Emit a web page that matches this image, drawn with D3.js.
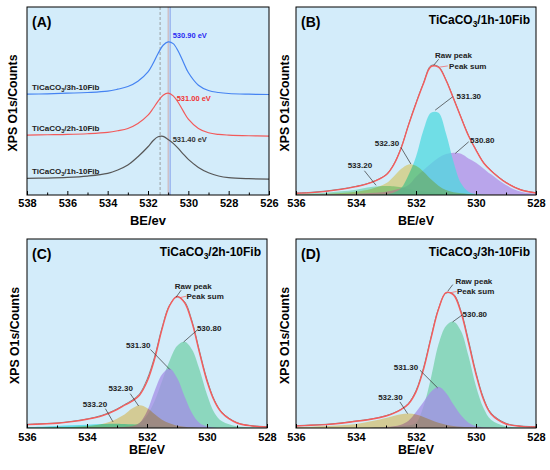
<!DOCTYPE html>
<html>
<head>
<meta charset="utf-8">
<script src="https://cdnjs.cloudflare.com/ajax/libs/d3/7.8.5/d3.min.js"></script>
<style>
body { margin: 0; background: #fff; }
svg text { font-family: Arial, "Liberation Sans", sans-serif; font-weight: bold; }
</style>
</head>
<body>
<div id="chart"></div>
<script>
// ---- data (counts are arbitrary units) ----
var evA = [538, 537, 536, 535, 534, 533.5, 533, 532.5, 532, 531.75, 531.5, 531.25, 531,
	530.75, 530.5, 530.25, 530, 529.5, 529, 528.5, 528, 527, 526];
var curveA1h = [50, 51, 53, 57, 65, 75, 90, 115, 145, 163, 175, 176, 167, 155, 140, 123, 107, 83, 67, 57, 52, 49, 48];
var curveA2h = [180, 181, 182, 184, 188, 193, 200, 215, 240, 260, 282, 300, 306, 298, 278, 252, 228, 200, 187, 182, 180, 178, 177];
var curveA3h = [303, 304, 306, 308, 312, 318, 326, 342, 370, 395, 425, 450, 460, 455, 432, 400, 368, 330, 314, 308, 305, 303, 302];
var peakTextA = ['531.40 eV', '531.00 eV', '530.90 eV'];
var refLinesA = [531.4, 531.0, 530.9];
var ticksA = [538, 536, 534, 532, 530, 528, 526];
var minorA = [537, 535, 533, 531, 529, 527];

var evGrid = [536, 535.5, 535, 534.5, 534, 533.5, 533, 532.75, 532.5, 532.25, 532, 531.75, 531.5,
	531.25, 531, 530.75, 530.5, 530.25, 530, 529.75, 529.5, 529, 528.5, 528];
var ticksFit = [536, 534, 532, 530, 528];
var minorFit = [535, 533, 531, 529];

// (B) 1h
var rawB = [6, 8, 12, 18, 26, 38, 61, 91, 141, 211, 277, 337, 389, 386, 346, 291, 234, 179, 136, 98, 74, 38, 16, 7];
var sumB = [5, 7, 11, 17, 25, 37, 60, 90, 140, 210, 275, 335, 386, 384, 345, 290, 233, 178, 135, 97, 73, 37, 15, 6];
var fitB53320 = [3, 5, 7, 11, 16, 24, 27, 26, 23, 19, 15, 11, 8, 6, 4, 3, 2, 2, 1, 1, 1, 1, 0, 0];
var fitB53230 = [1, 2, 3, 6, 10, 18, 35, 55, 78, 92, 88, 70, 47, 28, 15, 8, 5, 3, 2, 1, 1, 1, 0, 0];
var fitB53130 = [0, 0, 0, 0, 0, 1, 2, 7, 20, 60, 115, 195, 247, 247, 185, 100, 35, 10, 3, 1, 0, 0, 0, 0];
var fitB53080 = [1, 1, 2, 3, 4, 6, 10, 14, 20, 30, 55, 75, 95, 112, 123, 127, 124, 110, 97, 80, 62, 30, 10, 4];

// (C) 2h
var rawC = [11, 13, 15, 20, 27, 38, 57, 70, 83, 102, 145, 212, 300, 367, 392, 378, 320, 230, 145, 83, 47, 16, 7, 4];
var sumC = [10, 12, 14, 19, 26, 36, 55, 68, 80, 98, 138, 205, 295, 365, 393, 375, 315, 225, 140, 80, 45, 15, 6, 3];
var fitC53320 = [3, 4, 6, 8, 10, 12, 13, 12, 11, 10, 8, 6, 5, 4, 3, 2, 2, 1, 1, 1, 0, 0, 0, 0];
var fitC53230 = [1, 1, 2, 3, 6, 12, 28, 40, 58, 68, 60, 42, 25, 14, 7, 4, 2, 1, 1, 0, 0, 0, 0, 0];
var fitC53130 = [0, 0, 0, 0, 1, 1, 2, 3, 5, 15, 50, 110, 160, 178, 150, 95, 45, 15, 5, 1, 0, 0, 0, 0];
var fitC53080 = [1, 1, 1, 1, 2, 2, 3, 4, 7, 15, 38, 80, 140, 200, 245, 258, 235, 175, 100, 45, 20, 5, 2, 1];

// (D) 3h
var rawD = [7, 9, 11, 15, 21, 27, 37, 45, 56, 74, 112, 180, 272, 357, 403, 400, 350, 262, 166, 90, 45, 14, 6, 4];
var sumD = [6, 8, 10, 14, 20, 26, 36, 44, 55, 72, 108, 175, 268, 355, 405, 398, 345, 255, 160, 85, 42, 12, 5, 3];
var fitD53230 = [3, 4, 6, 8, 12, 20, 30, 36, 41, 43, 40, 33, 24, 16, 10, 6, 4, 3, 2, 1, 1, 0, 0, 0];
var fitD53130 = [0, 0, 0, 0, 0, 1, 3, 5, 10, 22, 48, 78, 108, 123, 105, 70, 38, 16, 6, 2, 1, 0, 0, 0];
var fitD53080 = [0, 0, 0, 0, 1, 1, 2, 3, 5, 8, 15, 65, 150, 250, 305, 318, 290, 215, 125, 60, 25, 5, 2, 1];

var countMax = 565;
var bgColor = '#d3ecfa';

var svg = d3.select('#chart')
	.append('svg')
	.attr('width', 550)
	.attr('height', 470)
	.style('display', 'block');

svg.append('rect').attr('width', 550).attr('height', 470).attr('fill', '#fff');

function sampleName(sel, hours, size)
{
	sel.append('tspan').text('TiCaCO');
	sel.append('tspan').attr('font-size', size * 0.7).attr('dy', size * 0.25).text('3');
	sel.append('tspan').attr('dy', -size * 0.25).text('/' + hours + '-10Fib');
}

// box = [left, right, top, bottom]
function makeFrame(p)
{
	var box = p.box;
	var x = d3.scaleLinear().domain(p.dom).range([box[0], box[1]]);
	var y = d3.scaleLinear().domain([0, countMax]).range([box[3], box[2]]);

	var g = svg.append('g');

	var clipId = 'clip' + p.id;
	g.append('clipPath').attr('id', clipId)
		.append('rect')
		.attr('x', box[0]).attr('y', box[2])
		.attr('width', box[1] - box[0]).attr('height', box[3] - box[2]);

	var plot = g.append('g').attr('clip-path', 'url(#' + clipId + ')');

	// background lives inside the clipped group so blending sees it
	plot.append('rect')
		.attr('x', box[0]).attr('y', box[2])
		.attr('width', box[1] - box[0]).attr('height', box[3] - box[2])
		.attr('fill', bgColor);

	return { x: x, y: y, g: g, plot: plot };
}

function finishFrame(f, p)
{
	var box = p.box;
	var g = f.g;

	g.append('rect')
		.attr('x', box[0]).attr('y', box[2])
		.attr('width', box[1] - box[0]).attr('height', box[3] - box[2])
		.attr('fill', 'none').attr('stroke', '#000').attr('stroke-width', 1);

	var axis = d3.axisBottom(f.x)
		.tickValues(p.ticks)
		.tickSizeInner(-4)
		.tickSizeOuter(0)
		.tickPadding(p.pad)
		.tickFormat(d3.format('d'));

	var minor = d3.axisBottom(f.x)
		.tickValues(p.minor)
		.tickSizeInner(-2.5)
		.tickSizeOuter(0)
		.tickFormat('');

	var ax = g.append('g')
		.attr('transform', 'translate(0,' + box[3] + ')')
		.call(axis);
	ax.select('.domain').remove();
	ax.selectAll('line').attr('stroke', '#000');
	ax.selectAll('text')
		.attr('fill', '#000')
		.style('font-size', '11px')
		.style('font-family', 'Arial, "Liberation Sans", sans-serif');

	var mx = g.append('g')
		.attr('transform', 'translate(0,' + box[3] + ')')
		.call(minor);
	mx.select('.domain').remove();
	mx.selectAll('line').attr('stroke', '#000');

	g.append('text')
		.attr('x', (box[0] + box[1]) / 2)
		.attr('y', p.xTitleY)
		.attr('text-anchor', 'middle')
		.attr('font-size', 13.5)
		.attr('textLength', 36)
		.attr('lengthAdjust', 'spacingAndGlyphs')
		.text(p.xTitle);

	g.append('text')
		.attr('transform', 'translate(' + p.yTitleX + ',' + ((box[2] + box[3]) / 2 + 2) + ') rotate(-90)')
		.attr('text-anchor', 'middle')
		.attr('font-size', 13)
		.attr('textLength', 97)
		.attr('lengthAdjust', 'spacingAndGlyphs')
		.text('XPS O1s/Counts');

	g.append('text')
		.attr('x', box[0] + 5)
		.attr('y', box[2] + 19.5)
		.attr('font-size', 14)
		.text('(' + p.id + ')');

	if (p.hours)
	{
		var t = g.append('text')
			.attr('x', box[1] - 6)
			.attr('y', box[2] + 16.5)
			.attr('text-anchor', 'end')
			.attr('font-size', 12);
		sampleName(t, p.hours, 12);
	}
}

// ---------------- panel A ----------------
(function()
{
	var p = { id: 'A', box: [27, 269, 7, 195], dom: [538, 526], ticks: ticksA, minor: minorA,
		pad: 4.5, xTitle: 'BE/ev', xTitleY: 224.5, yTitleX: 17 };
	var f = makeFrame(p);

	var refStyles = [
		{ c: '#8c8c8c', w: 0.8, dash: '3,2' },
		{ c: '#c99a9a', w: 0.8, dash: null },
		{ c: '#9fb9f0', w: 1.6, dash: null }
	];
	refLinesA.forEach(function(v, i)
	{
		f.plot.append('line')
			.attr('x1', f.x(v)).attr('x2', f.x(v))
			.attr('y1', p.box[2]).attr('y2', p.box[3])
			.attr('stroke', refStyles[i].c)
			.attr('stroke-width', refStyles[i].w)
			.attr('stroke-dasharray', refStyles[i].dash);
	});

	var line = d3.line()
		.x(function(d, i) { return f.x(evA[i]); })
		.y(function(d) { return f.y(d); })
		.curve(d3.curveCatmullRom.alpha(0.5));

	var curves = [
		{ v: curveA1h, c: '#575757', h: '1h', lab: '#333', dx: 9.5, dy: 6 },
		{ v: curveA2h, c: '#f25a5a', h: '2h', lab: '#f03434', dx: 8.5, dy: 7.5 },
		{ v: curveA3h, c: '#4583f2', h: '3h', lab: '#2b2bf2', dx: 4.5, dy: -4 }
	];

	curves.forEach(function(s, i)
	{
		f.plot.append('path')
			.attr('d', line(s.v))
			.attr('fill', 'none')
			.attr('stroke', s.c)
			.attr('stroke-width', 1.2);

		var t = f.g.append('text')
			.attr('x', p.box[0] + 5)
			.attr('y', f.y(s.v[0]) - 4)
			.attr('font-size', 8)
			.attr('fill', '#222');
		sampleName(t, s.h, 8);

		var k = d3.maxIndex(s.v);
		f.g.append('text')
			.attr('x', f.x(evA[k]) + s.dx)
			.attr('y', f.y(s.v[k]) + s.dy)
			.attr('font-size', 7.5)
			.attr('fill', s.lab)
			.text(peakTextA[i]);
	});

	finishFrame(f, p);
})();

// ---------------- fitted panels ----------------
function drawFit(p)
{
	var f = makeFrame(p);

	var area = d3.area()
		.x(function(d, i) { return f.x(evGrid[i]); })
		.y0(f.y(0))
		.y1(function(d) { return f.y(d); })
		.curve(d3.curveCatmullRom.alpha(0.5));

	var line = d3.line()
		.x(function(d, i) { return f.x(evGrid[i]); })
		.y(function(d) { return f.y(d); })
		.curve(d3.curveCatmullRom.alpha(0.5));

	p.comps.forEach(function(c)
	{
		f.plot.append('path')
			.attr('d', area(c.v))
			.attr('fill', c.color)
			.attr('fill-opacity', c.multiply ? 1 : 0.75)
			.style('mix-blend-mode', c.multiply ? 'multiply' : 'normal');
	});

	f.plot.append('path')
		.attr('d', line(p.raw))
		.attr('fill', 'none')
		.attr('stroke', '#6a6a6a')
		.attr('stroke-width', 0.8);

	f.plot.append('path')
		.attr('d', line(p.sum))
		.attr('fill', 'none')
		.attr('stroke', '#f55c5c')
		.attr('stroke-width', 1.4);

	p.notes.forEach(function(n)
	{
		var ax = f.x(n.ev), ay = f.y(n.c);
		f.g.append('line')
			.attr('x1', ax).attr('y1', ay)
			.attr('x2', ax + n.lx).attr('y2', ay + n.ly)
			.attr('stroke', n.red ? '#f55c5c' : '#333')
			.attr('stroke-width', 0.7);
		f.g.append('text')
			.attr('x', ax + n.tx)
			.attr('y', ay + n.ty)
			.attr('text-anchor', n.end ? 'end' : 'start')
			.attr('font-size', 8)
			.attr('fill', '#222')
			.text(n.t);
	});

	finishFrame(f, p);
}

drawFit({
	id: 'B', hours: '1h', box: [296, 536, 7, 195], dom: [536, 528], ticks: ticksFit, minor: minorFit,
	pad: 4.5, xTitle: 'BE/eV', xTitleY: 225, yTitleX: 288.5,
	raw: rawB, sum: sumB,
	comps: [
		{ v: fitB53320, color: '#7ad4b0' },
		{ v: fitB53080, color: '#b08de6' },
		{ v: fitB53130, color: '#4fd9df' },
		{ v: fitB53230, color: '#ffe49c', multiply: true }
	],
	notes: [
		{ t: 'Raw peak', ev: 531.41, c: 390, lx: 5, ly: -6, tx: 1.3, ty: -7 },
		{ t: 'Peak sum', ev: 531.24, c: 384, lx: 9, ly: -1.3, tx: 10.3, ty: 1.7, red: true },
		{ t: '531.30', ev: 531.36, c: 255, lx: 17.4, ly: -13.3, tx: 21.4, ty: -11 },
		{ t: '530.80', ev: 530.69, c: 125, lx: 13.4, ly: -11.6, tx: 14.7, ty: -10.6 },
		{ t: '532.30', ev: 532.17, c: 93, lx: -10, ly: -16.7, tx: -11.7, ty: -18, end: true },
		{ t: '533.20', ev: 533.33, c: 29, lx: -11.7, ly: -14.6, tx: -4, ty: -17, end: true }
	]
});

drawFit({
	id: 'C', hours: '2h', box: [27, 267, 239, 428], dom: [536, 528], ticks: ticksFit, minor: minorFit,
	pad: 5.5, xTitle: 'BE/eV', xTitleY: 454, yTitleX: 18.5,
	raw: rawC, sum: sumC,
	comps: [
		{ v: fitC53320, color: '#40d8e4' },
		{ v: fitC53080, color: '#74d0aa' },
		{ v: fitC53130, color: '#a38de6' },
		{ v: fitC53230, color: '#ffdc98', multiply: true }
	],
	notes: [
		{ t: 'Raw peak', ev: 531.03, c: 391, lx: 5, ly: -7, tx: -1.3, ty: -8.6 },
		{ t: 'Peak sum', ev: 530.94, c: 389, lx: 7.6, ly: -1.7, tx: 7.6, ty: 1.6, red: true },
		{ t: '530.80', ev: 530.78, c: 257, lx: 14, ly: -12.3, tx: 13.3, ty: -11 },
		{ t: '531.30', ev: 531.24, c: 175, lx: -19.4, ly: -20, tx: -19.4, ty: -21.6, end: true },
		{ t: '532.30', ev: 532.28, c: 66, lx: -8.4, ly: -12.3, tx: -5.7, ty: -15, end: true },
		{ t: '533.20', ev: 533.13, c: 18, lx: -7.7, ly: -13.3, tx: -6, ty: -15, end: true }
	]
});

drawFit({
	id: 'D', hours: '3h', box: [296, 536, 239, 428], dom: [536, 528], ticks: ticksFit, minor: minorFit,
	pad: 5.5, xTitle: 'BE/eV', xTitleY: 454, yTitleX: 288.5,
	raw: rawD, sum: sumD,
	comps: [
		{ v: fitD53080, color: '#74d0aa' },
		{ v: fitD53130, color: '#a38de6' },
		{ v: fitD53230, color: '#ffdc98', multiply: true }
	],
	notes: [
		{ t: 'Raw peak', ev: 530.94, c: 409, lx: 5, ly: -6.6, tx: 7.6, ty: -7.6 },
		{ t: 'Peak sum', ev: 530.87, c: 404, lx: 6.7, ly: -1.4, tx: 7, ty: 1.6, red: true },
		{ t: '530.80', ev: 530.78, c: 317, lx: 10, ly: -7.3, tx: 10, ty: -5 },
		{ t: '531.30', ev: 531.28, c: 120, lx: -17.7, ly: -17.7, tx: -19.4, ty: -18.3, end: true },
		{ t: '532.30', ev: 532.28, c: 43, lx: -7.7, ly: -11.7, tx: -5, ty: -13.4, end: true }
	]
});
</script>
</body>
</html>
